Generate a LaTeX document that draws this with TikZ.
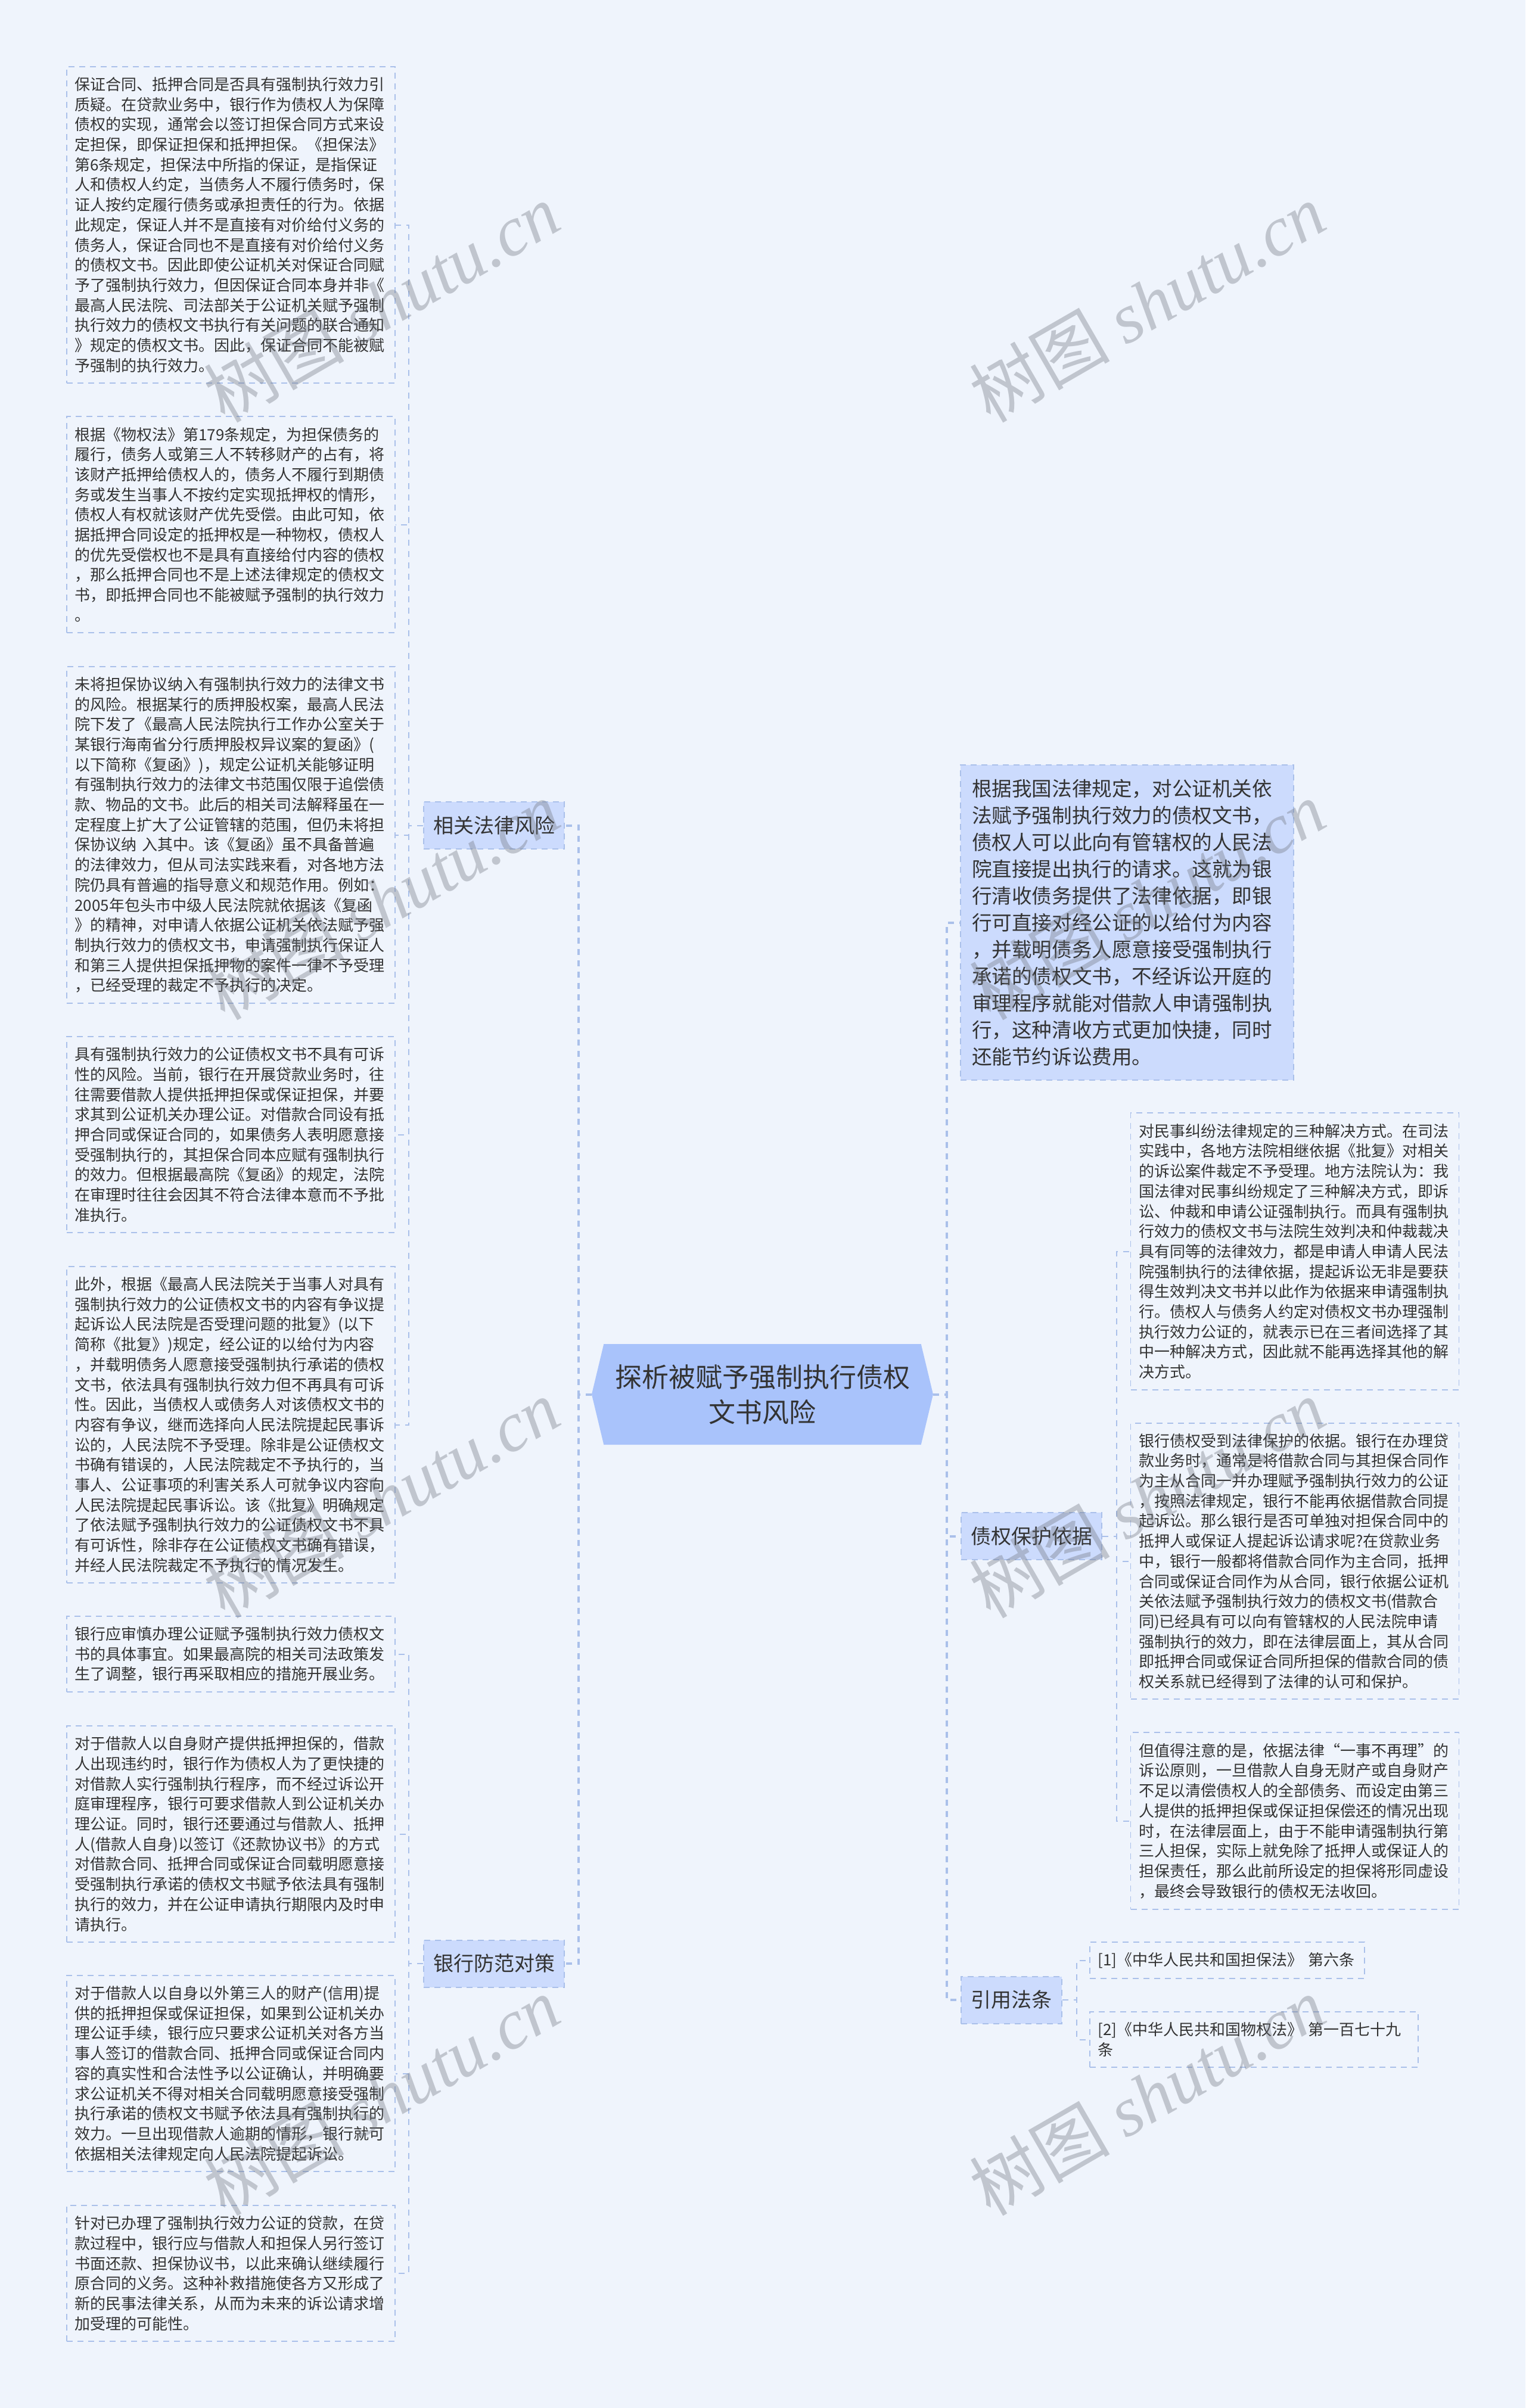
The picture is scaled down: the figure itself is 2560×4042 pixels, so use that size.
\documentclass[tikz,border=0pt]{standalone}
\usepackage{fontspec}
\setmainfont{Noto Sans CJK SC}
\newfontfamily\markfont{Liberation Serif}
\usetikzlibrary{shapes.symbols}
\definecolor{pagebg}{RGB}{239,244,252}
\definecolor{rootfill}{RGB}{169,195,251}
\definecolor{branchfill}{RGB}{204,219,253}
\definecolor{linkblue}{RGB}{170,192,234}
\definecolor{inkgray}{RGB}{51,51,51}
\definecolor{markgray}{RGB}{110,115,125}
\tikzset{
  boxh/.style={minimum height=#1*0.5pt},
  boxw/.style={minimum width=#1*0.5pt},
  rootbox/.style={shape=signal, signal to=west and east, signal pointer angle=153, fill=rootfill, text=inkgray, align=center, inner sep=0pt, font=\fontsize{22.5}{29.5}\selectfont},
  branchbox/.style={draw=linkblue, line width=1pt, dash pattern=on 5pt off 4pt, fill=branchfill, text=inkgray, inner sep=0pt, font=\fontsize{17}{22}\selectfont},
  notebox/.style={branchbox, align=left, text width=260.5pt, inner xsep=9.5pt, font=\fontsize{16.8}{22.5}\selectfont},
  leafbox/.style={draw=linkblue, line width=0.9pt, dash pattern=on 5pt off 4pt, text=inkgray, align=left, text width=262pt, inner xsep=6.75pt, inner ysep=0pt, font=\fontsize{13}{16.85}\selectfont},
  trunk/.style={draw=linkblue, line width=2pt, dash pattern=on 5pt off 4.5pt},
  twig/.style={draw=linkblue, line width=1pt, dash pattern=on 5pt off 4.5pt},
  markbox/.style={rotate=30, text=markgray, opacity=0.36, inner sep=0pt, font=\fontsize{59}{70}\selectfont}
}
\newcommand{\marktext}{树图 {\markfont\itshape shutu.cn}}
\begin{document}
\begin{tikzpicture}[x=0.5pt,y=-0.5pt]
    \useasboundingbox (0,0) rectangle (2560,4042);
    \fill[pagebg] (0,0) rectangle (2560,4042);

    % centre and the four first-level blocks
    \node[rootbox, boxw=573, boxh=169] (root) at (1279.5,2340.5) {探析被赋予强制执行债权\\文书风险};
    \node[branchbox, boxw=236, boxh=79] (risk) at (829,1385.5) {相关法律风险};
    \node[branchbox, boxw=236, boxh=79] (counter) at (829,3296) {银行防范对策};
    \node[branchbox, boxw=236, boxh=79] (basis) at (1731,2578.5) {债权保护依据};
    \node[branchbox, boxw=169, boxh=79] (statute) at (1697.5,3357) {引用法条};
    \node[notebox, boxh=529] (rule) at (1891.5,1548.5) {根据我国法律规定，对公证机关依\\法赋予强制执行效力的债权文书，\\债权人可以此向有管辖权的人民法\\院直接提出执行的请求。这就为银\\行清收债务提供了法律依据，即银\\行可直接对经公证的以给付为内容\\，并载明债务人愿意接受强制执行\\承诺的债权文书，不经诉讼开庭的\\审理程序就能对借款人申请强制执\\行，这种清收方式更加快捷，同时\\还能节约诉讼费用。};

    % left column
    \node[leafbox, boxh=531] (guarantee) at (387.5,377.5) {保证合同、抵押合同是否具有强制执行效力引\\质疑。在贷款业务中，银行作为债权人为保障\\债权的实现，通常会以签订担保合同方式来设\\定担保，即保证担保和抵押担保。《担保法》\\第6条规定，担保法中所指的保证，是指保证\\人和债权人约定，当债务人不履行债务时，保\\证人按约定履行债务或承担责任的行为。依据\\此规定，保证人并不是直接有对价给付义务的\\债务人，保证合同也不是直接有对价给付义务\\的债权文书。因此即使公证机关对保证合同赋\\予了强制执行效力，但因保证合同本身并非《\\最高人民法院、司法部关于公证机关赋予强制\\执行效力的债权文书执行有关问题的联合通知\\》规定的债权文书。因此，保证合同不能被赋\\予强制的执行效力。};
    \node[leafbox, boxh=363] (mortgage) at (387.5,880.5) {根据《物权法》第179条规定，为担保债务的\\履行，债务人或第三人不转移财产的占有，将\\该财产抵押给债权人的，债务人不履行到期债\\务或发生当事人不按约定实现抵押权的情形，\\债权人有权就该财产优先受偿。由此可知，依\\据抵押合同设定的抵押权是一种物权，债权人\\的优先受偿权也不是具有直接给付内容的债权\\，那么抵押合同也不是上述法律规定的债权文\\书，即抵押合同也不能被赋予强制的执行效力\\。};
    \node[leafbox, boxh=565] (pledge) at (387.5,1401.5) {未将担保协议纳入有强制执行效力的法律文书\\的风险。根据某行的质押股权案，最高人民法\\院下发了《最高人民法院执行工作办公室关于\\某银行海南省分行质押股权异议案的复函》(\\以下简称《复函》)，规定公证机关能够证明\\有强制执行效力的法律文书范围仅限于追偿债\\款、物品的文书。此后的相关司法解释虽在一\\定程度上扩大了公证管辖的范围，但仍未将担\\保协议纳 入其中。该《复函》虽不具备普遍\\的法律效力，但从司法实践来看，对各地方法\\院仍具有普遍的指导意义和规范作用。例如：\\2005年包头市中级人民法院就依据该《复函\\》的精神，对申请人依据公证机关依法赋予强\\制执行效力的债权文书，申请强制执行保证人\\和第三人提供担保抵押物的案件一律不予受理\\，已经受理的裁定不予执行的决定。};
    \node[leafbox, boxh=329] (suability) at (387.5,1904.5) {具有强制执行效力的公证债权文书不具有可诉\\性的风险。当前，银行在开展贷款业务时，往\\往需要借款人提供抵押担保或保证担保，并要\\求其到公证机关办理公证。对借款合同设有抵\\押合同或保证合同的，如果债务人表明愿意接\\受强制执行的，其担保合同本应赋有强制执行\\的效力。但根据最高院《复函》的规定，法院\\在审理时往往会因其不符合法律本意而不予批\\准执行。};
    \node[leafbox, boxh=531] (reply) at (387.5,2391.5) {此外，根据《最高人民法院关于当事人对具有\\强制执行效力的公证债权文书的内容有争议提\\起诉讼人民法院是否受理问题的批复》(以下\\简称《批复》)规定，经公证的以给付为内容\\，并载明债务人愿意接受强制执行承诺的债权\\文书，依法具有强制执行效力但不再具有可诉\\性。因此，当债权人或债务人对该债权文书的\\内容有争议，继而选择向人民法院提起民事诉\\讼的，人民法院不予受理。除非是公证债权文\\书确有错误的，人民法院裁定不予执行的，当\\事人、公证事项的利害关系人可就争议内容向\\人民法院提起民事诉讼。该《批复》明确规定\\了依法赋予强制执行效力的公证债权文书不具\\有可诉性，除非存在公证债权文书确有错误，\\并经人民法院裁定不予执行的情况发生。};
    \node[leafbox, boxh=127] (prudent) at (387.5,2776.5) {银行应审慎办理公证赋予强制执行效力债权文\\书的具体事宜。如果最高院的相关司法政策发\\生了调整，银行再采取相应的措施开展业务。};
    \node[leafbox, boxh=363] (ownasset) at (387.5,3078.5) {对于借款人以自身财产提供抵押担保的，借款\\人出现违约时，银行作为债权人为了更快捷的\\对借款人实行强制执行程序，而不经过诉讼开\\庭审理程序，银行可要求借款人到公证机关办\\理公证。同时，银行还要通过与借款人、抵押\\人(借款人自身)以签订《还款协议书》的方式\\对借款合同、抵押合同或保证合同载明愿意接\\受强制执行承诺的债权文书赋予依法具有强制\\执行的效力，并在公证申请执行期限内及时申\\请执行。};
    \node[leafbox, boxh=329] (thirdparty) at (387.5,3480.5) {对于借款人以自身以外第三人的财产(信用)提\\供的抵押担保或保证担保，如果到公证机关办\\理公证手续，银行应只要求公证机关对各方当\\事人签订的借款合同、抵押合同或保证合同内\\容的真实性和合法性予以公证确认，并明确要\\求公证机关不得对相关合同载明愿意接受强制\\执行承诺的债权文书赋予依法具有强制执行的\\效力。一旦出现借款人逾期的情形，银行就可\\依据相关法律规定向人民法院提起诉讼。};
    \node[leafbox, boxh=228] (remedy) at (387.5,3816) {针对已办理了强制执行效力公证的贷款，在贷\\款过程中，银行应与借款人和担保人另行签订\\书面还款、担保协议书，以此来确认继续履行\\原合同的义务。这种补救措施使各方又形成了\\新的民事法律关系，从而为未来的诉讼请求增\\加受理的可能性。};

    % right column
    \node[leafbox, boxh=465] (dispute) at (2173,2100.5) {对民事纠纷法律规定的三种解决方式。在司法\\实践中，各地方法院相继依据《批复》对相关\\的诉讼案件裁定不予受理。地方法院认为：我\\国法律对民事纠纷规定了三种解决方式，即诉\\讼、仲裁和申请公证强制执行。而具有强制执\\行效力的债权文书与法院生效判决和仲裁裁决\\具有同等的法律效力，都是申请人申请人民法\\院强制执行的法律依据，提起诉讼无非是要获\\得生效判决文书并以此作为依据来申请强制执\\行。债权人与债务人约定对债权文书办理强制\\执行效力公证的，就表示已在三者间选择了其\\中一种解决方式，因此就不能再选择其他的解\\决方式。};
    \node[leafbox, boxh=463] (protect) at (2173,2620.5) {银行债权受到法律保护的依据。银行在办理贷\\款业务时，通常是将借款合同与其担保合同作\\为主从合同一并办理赋予强制执行效力的公证\\，按照法律规定，银行不能再依据借款合同提\\起诉讼。那么银行是否可单独对担保合同中的\\抵押人或保证人提起诉讼请求呢?在贷款业务\\中，银行一般都将借款合同作为主合同，抵押\\合同或保证合同作为从合同，银行依据公证机\\关依法赋予强制执行效力的债权文书(借款合\\同)已经具有可以向有管辖权的人民法院申请\\强制执行的效力，即在法律层面上，其从合同\\即抵押合同或保证合同所担保的借款合同的债\\权关系就已经得到了法律的认可和保护。};
    \node[leafbox, boxh=297] (oncecase) at (2173,3056.5) {但值得注意的是，依据法律“一事不再理”的\\诉讼原则，一旦借款人自身无财产或自身财产\\不足以清偿债权人的全部债务、而设定由第三\\人提供的抵押担保或保证担保偿还的情况出现\\时，在法律层面上，由于不能申请强制执行第\\三人担保，实际上就免除了抵押人或保证人的\\担保责任，那么此前所设定的担保将形同虚设\\，最终会导致银行的债权无法收回。};
    \node[leafbox, text width=217pt, boxh=61] (lawa) at (2059.5,3290.5) {[1]《中华人民共和国担保法》 第六条};
    \node[leafbox, boxh=93] (lawb) at (2104.5,3423.5) {[2]《中华人民共和国物权法》 第一百七十九\\条};

    % first level links
    \draw[trunk] (root.west) -- ++(-22,0) |- (risk.east);
    \draw[trunk] (root.west) -- ++(-22,0) |- (counter.east);
    \draw[trunk] (root.east) -- ++(23,0) |- (rule.west);
    \draw[trunk] (root.east) -- ++(23,0) |- (basis.west);
    \draw[trunk] (root.east) -- ++(23,0) |- (statute.west);

    % second level links
    \draw[twig] (risk.west) -- ++(-24,0) |- (guarantee.east);
    \draw[twig] (risk.west) -- ++(-24,0) |- (mortgage.east);
    \draw[twig] (risk.west) -- ++(-24,0) |- (pledge.east);
    \draw[twig] (risk.west) -- ++(-24,0) |- (suability.east);
    \draw[twig] (risk.west) -- ++(-24,0) |- (reply.east);
    \draw[twig] (counter.west) -- ++(-24,0) |- (prudent.east);
    \draw[twig] (counter.west) -- ++(-24,0) |- (ownasset.east);
    \draw[twig] (counter.west) -- ++(-24,0) |- (thirdparty.east);
    \draw[twig] (counter.west) -- ++(-24,0) |- (remedy.east);
    \draw[twig] (basis.east) -- ++(24,0) |- (dispute.west);
    \draw[twig] (basis.east) -- ++(24,0) |- (protect.west);
    \draw[twig] (basis.east) -- ++(24,0) |- (oncecase.west);
    \draw[twig] (statute.east) -- ++(24,0) |- (lawa.west);
    \draw[twig] (statute.east) -- ++(24,0) |- (lawb.west);

    % watermark
    \node[markbox] (marka) at (640,508) {\marktext};
    \node[markbox] (markb) at (1925,508) {\marktext};
    \node[markbox] (markc) at (640,1511) {\marktext};
    \node[markbox] (markd) at (1925,1511) {\marktext};
    \node[markbox] (marke) at (640,2515) {\marktext};
    \node[markbox] (markf) at (1925,2515) {\marktext};
    \node[markbox] (markg) at (640,3518) {\marktext};
    \node[markbox] (markh) at (1925,3518) {\marktext};
\end{tikzpicture}
\end{document}
